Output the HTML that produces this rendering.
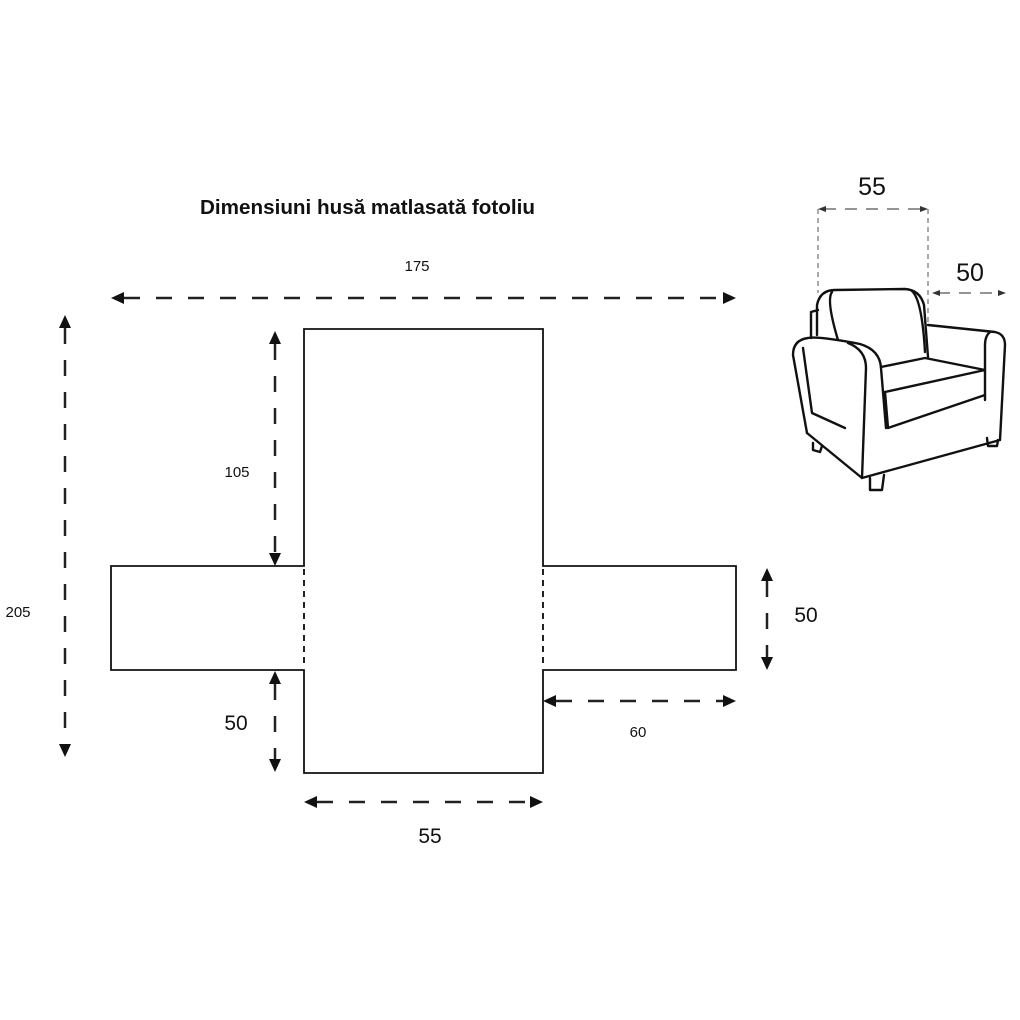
<!DOCTYPE html>
<html><head><meta charset="utf-8"><style>
html,body{margin:0;padding:0;background:#fff;}
svg{display:block;}
text{font-family:"Liberation Sans","DejaVu Sans",sans-serif;fill:#111;}
</style></head><body>
<svg width="1020" height="1020" viewBox="0 0 1020 1020" xmlns="http://www.w3.org/2000/svg">
<text x="200" y="214" font-size="20" font-weight="bold" textLength="335" lengthAdjust="spacingAndGlyphs">Dimensiuni husă matlasată fotoliu</text>

<g fill="none" stroke="#111" stroke-width="1.8">
<path d="M304,566 L304,329 L543,329 L543,566 L736,566 L736,670 L543,670 L543,773 L304,773 L304,670 L111,670 L111,566 Z"/>
</g>
<g stroke="#222" stroke-width="2" stroke-dasharray="6,5">
<line x1="304" y1="569" x2="304" y2="668"/>
<line x1="543" y1="569" x2="543" y2="668"/>
</g>

<g stroke="#222" stroke-width="2.5" stroke-dasharray="16,16" fill="none">
<line x1="124" y1="298" x2="724" y2="298"/>
<line x1="65" y1="328" x2="65" y2="745"/>
<line x1="275" y1="344" x2="275" y2="554"/>
<line x1="275" y1="684" x2="275" y2="760"/>
<line x1="317" y1="802" x2="530" y2="802"/>
<line x1="767" y1="581" x2="767" y2="657"/>
<line x1="556" y1="701" x2="724" y2="701"/>
</g>
<g fill="#111">
<path d="M111,298 L124,292 L124,304 Z"/><path d="M736,298 L723,292 L723,304 Z"/>
<path d="M65,315 L59,328 L71,328 Z"/><path d="M65,757 L59,744 L71,744 Z"/>
<path d="M275,331 L269,344 L281,344 Z"/><path d="M275,566 L269,553 L281,553 Z"/>
<path d="M275,671 L269,684 L281,684 Z"/><path d="M275,772 L269,759 L281,759 Z"/>
<path d="M304,802 L317,796 L317,808 Z"/><path d="M543,802 L530,796 L530,808 Z"/>
<path d="M767,568 L761,581 L773,581 Z"/><path d="M767,670 L761,657 L773,657 Z"/>
<path d="M543,701 L556,695 L556,707 Z"/><path d="M736,701 L723,695 L723,707 Z"/>
</g>

<text x="417" y="271" font-size="15" text-anchor="middle">175</text>
<text x="237" y="477" font-size="15" text-anchor="middle">105</text>
<text x="18" y="617" font-size="15" text-anchor="middle">205</text>
<text x="236" y="730" font-size="21" text-anchor="middle">50</text>
<text x="430" y="843" font-size="21" text-anchor="middle">55</text>
<text x="806" y="622" font-size="21" text-anchor="middle">50</text>
<text x="638" y="737" font-size="15" text-anchor="middle">60</text>
<text x="872" y="195" font-size="25" text-anchor="middle">55</text>
<text x="970" y="281" font-size="25" text-anchor="middle">50</text>

<g stroke="#555" stroke-width="1" stroke-dasharray="5,4" fill="none">
<line x1="818" y1="209" x2="818" y2="293"/>
<line x1="928" y1="209" x2="928" y2="325"/>
</g>
<g stroke="#555" stroke-width="1.2" stroke-dasharray="12,9" fill="none">
<line x1="824" y1="209" x2="922" y2="209"/>
<line x1="938" y1="293" x2="1000" y2="293"/>
</g>
<g fill="#333">
<path d="M818,209 L826,206 L826,212 Z"/><path d="M928,209 L920,206 L920,212 Z"/>
<path d="M932,293 L940,290 L940,296 Z"/><path d="M1006,293 L998,290 L998,296 Z"/>
</g>

<g fill="none" stroke="#111" stroke-width="2.4" stroke-linejoin="round" stroke-linecap="round">
<path d="M817,335 L817,305 Q820,290 835,290 L905,289 Q920,290 924,305 L928,357"/>
<path d="M832,292 Q826,300 838,340"/>
<path d="M912,291 Q922,300 925,352"/>
<path d="M818,310 L811,312 L811,338"/>
<path d="M807,433 L793,355 Q793,340 808,338 Q818,336 860,344 Q880,350 881,368 L886,428"/>
<path d="M848,343 Q866,350 866,368 L862,478"/>
<path d="M803,348 L812,413 L845,428"/>
<path d="M807,433 L862,478 L1000,440 L1005,345 Q1005,334 995,332 L928,325"/>
<path d="M881,367 L925,358 L985,370 L885,392"/>
<path d="M885,392 L888,428 L985,395"/>
<path d="M985,372 L985,400"/>
<path d="M990,332 Q985,336 985,345 L985,372"/>
<path d="M813,443 L813,450 L820,452 L822,446"/>
<path d="M870,478 L870,490 L882,490 L884,475"/>
<path d="M987,438 L988,446 L997,446 L998,440"/>
</g>
</svg>
</body></html>
